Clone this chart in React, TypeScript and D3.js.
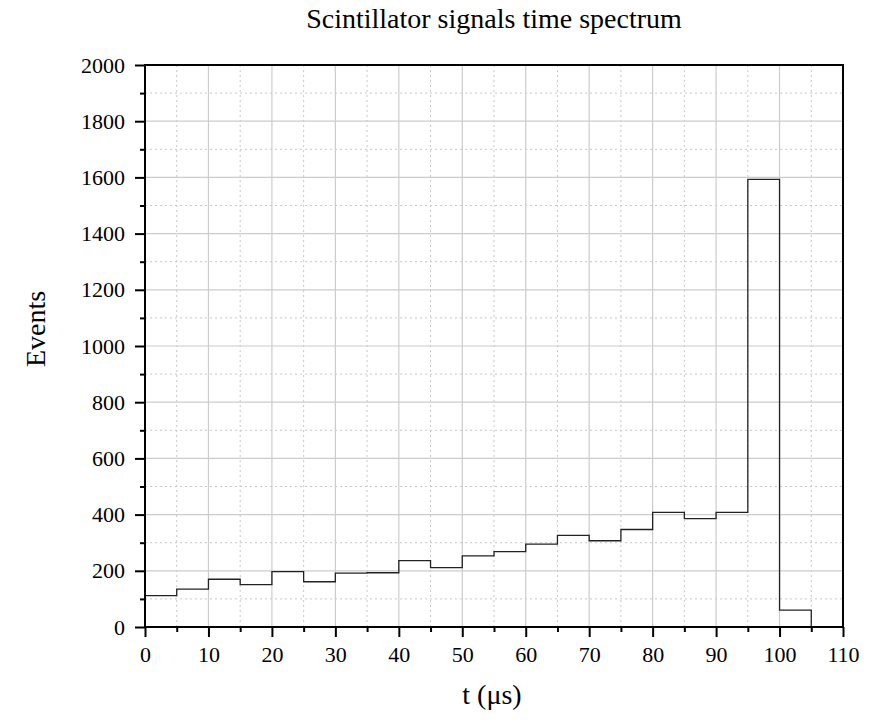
import React, { useEffect, useRef } from "react";
import * as d3 from "d3";

// bin edges in microseconds and counts per 5 us bin
const binStarts = [0, 5, 10, 15, 20, 25, 30, 35, 40, 45, 50, 55, 60, 65, 70, 75, 80, 85, 90, 95, 100];
const binWidth = 5;
const counts = [112, 135, 170, 151, 197, 161, 192, 193, 236, 211, 253, 268, 295, 326, 307, 347, 408, 386, 408, 1593, 60];

const xTicks = [0, 10, 20, 30, 40, 50, 60, 70, 80, 90, 100, 110];
const yTicks = [0, 200, 400, 600, 800, 1000, 1200, 1400, 1600, 1800, 2000];

const title = "Scintillator signals time spectrum";
const xLabel = "t (\u03bcs)";
const yLabel = "Events";

export default function App() {
  const ref = useRef<SVGSVGElement>(null);

  useEffect(() => {
    const width = 887, height = 721;
    const margin = { top: 65, right: 44, bottom: 94, left: 145 };
    const svg = d3.select(ref.current);
    svg.selectAll("*").remove();

    const x = d3.scaleLinear().domain([0, 110]).range([margin.left, width - margin.right]);
    const y = d3.scaleLinear().domain([0, 2000]).range([height - margin.bottom, margin.top]);

    const font = "'Liberation Serif', 'Times New Roman', serif";
    const grid = svg.append("g");

    // minor grid (dotted)
    const xMinor = d3.range(5, 110, 10);
    const yMinor = d3.range(100, 2000, 200);
    grid.selectAll(".xm").data(xMinor).join("line")
      .attr("x1", d => x(d)).attr("x2", d => x(d))
      .attr("y1", y(0)).attr("y2", y(2000))
      .attr("stroke", "#c8c8c8").attr("stroke-dasharray", "2,3");
    grid.selectAll(".ym").data(yMinor).join("line")
      .attr("y1", d => y(d)).attr("y2", d => y(d))
      .attr("x1", x(0)).attr("x2", x(110))
      .attr("stroke", "#c8c8c8").attr("stroke-dasharray", "2,3");
    // major grid
    grid.selectAll(".xg").data(xTicks.slice(1, -1)).join("line")
      .attr("x1", d => x(d)).attr("x2", d => x(d))
      .attr("y1", y(0)).attr("y2", y(2000))
      .attr("stroke", "#cccccc").attr("stroke-width", 1.2);
    grid.selectAll(".yg").data(yTicks.slice(1, -1)).join("line")
      .attr("y1", d => y(d)).attr("y2", d => y(d))
      .attr("x1", x(0)).attr("x2", x(110))
      .attr("stroke", "#cccccc").attr("stroke-width", 1.2);

    // histogram outline
    const p = d3.path();
    p.moveTo(x(0), y(0));
    binStarts.forEach((s, i) => {
      p.lineTo(x(s), y(counts[i]));
      p.lineTo(x(s + binWidth), y(counts[i]));
    });
    p.lineTo(x(binStarts[binStarts.length - 1] + binWidth), y(0));
    svg.append("path").attr("d", p.toString())
      .attr("fill", "none").attr("stroke", "#222").attr("stroke-width", 1.3);

    // frame
    svg.append("rect")
      .attr("x", x(0)).attr("y", y(2000))
      .attr("width", x(110) - x(0)).attr("height", y(0) - y(2000))
      .attr("fill", "none").attr("stroke", "#000").attr("stroke-width", 2);

    // axes
    const xAxis = d3.axisBottom(x).tickValues(xTicks).tickSize(10).tickPadding(9).tickFormat(d3.format("d"));
    const gx = svg.append("g").attr("transform", `translate(0,${y(0)})`).call(xAxis);
    const xMinorAxis = d3.axisBottom(x).tickValues(xMinor).tickSize(5).tickFormat(() => "");
    svg.append("g").attr("transform", `translate(0,${y(0)})`).call(xMinorAxis)
      .call(g => g.select(".domain").remove())
      .selectAll("line").attr("stroke-width", 2);

    const yAxis = d3.axisLeft(y).tickValues(yTicks).tickSize(10).tickPadding(10).tickFormat(d3.format("d"));
    const gy = svg.append("g").attr("transform", `translate(${x(0)},0)`).call(yAxis);
    const yMinorAxis = d3.axisLeft(y).tickValues(yMinor).tickSize(5).tickFormat(() => "");
    svg.append("g").attr("transform", `translate(${x(0)},0)`).call(yMinorAxis)
      .call(g => g.select(".domain").remove())
      .selectAll("line").attr("stroke-width", 2);

    [gx, gy].forEach(g => {
      g.select(".domain").remove();
      g.selectAll("line").attr("stroke", "#000").attr("stroke-width", 2);
      g.selectAll("text").attr("font-family", font).attr("font-size", 22).attr("fill", "#000");
    });

    svg.append("text").attr("x", 494).attr("y", 28).attr("text-anchor", "middle")
      .attr("font-family", font).attr("font-size", 28).text(title);
    svg.append("text").attr("x", 492).attr("y", 704).attr("text-anchor", "middle")
      .attr("font-family", font).attr("font-size", 28).text(xLabel);
    svg.append("text").attr("transform", `translate(45,329) rotate(-90)`)
      .attr("text-anchor", "middle")
      .attr("font-family", font).attr("font-size", 28).text(yLabel);
  }, []);

  return <svg ref={ref} width={887} height={721} style={{ display: "block", position: "absolute", left: 0, top: 0, background: "#fff" }} />;
}
